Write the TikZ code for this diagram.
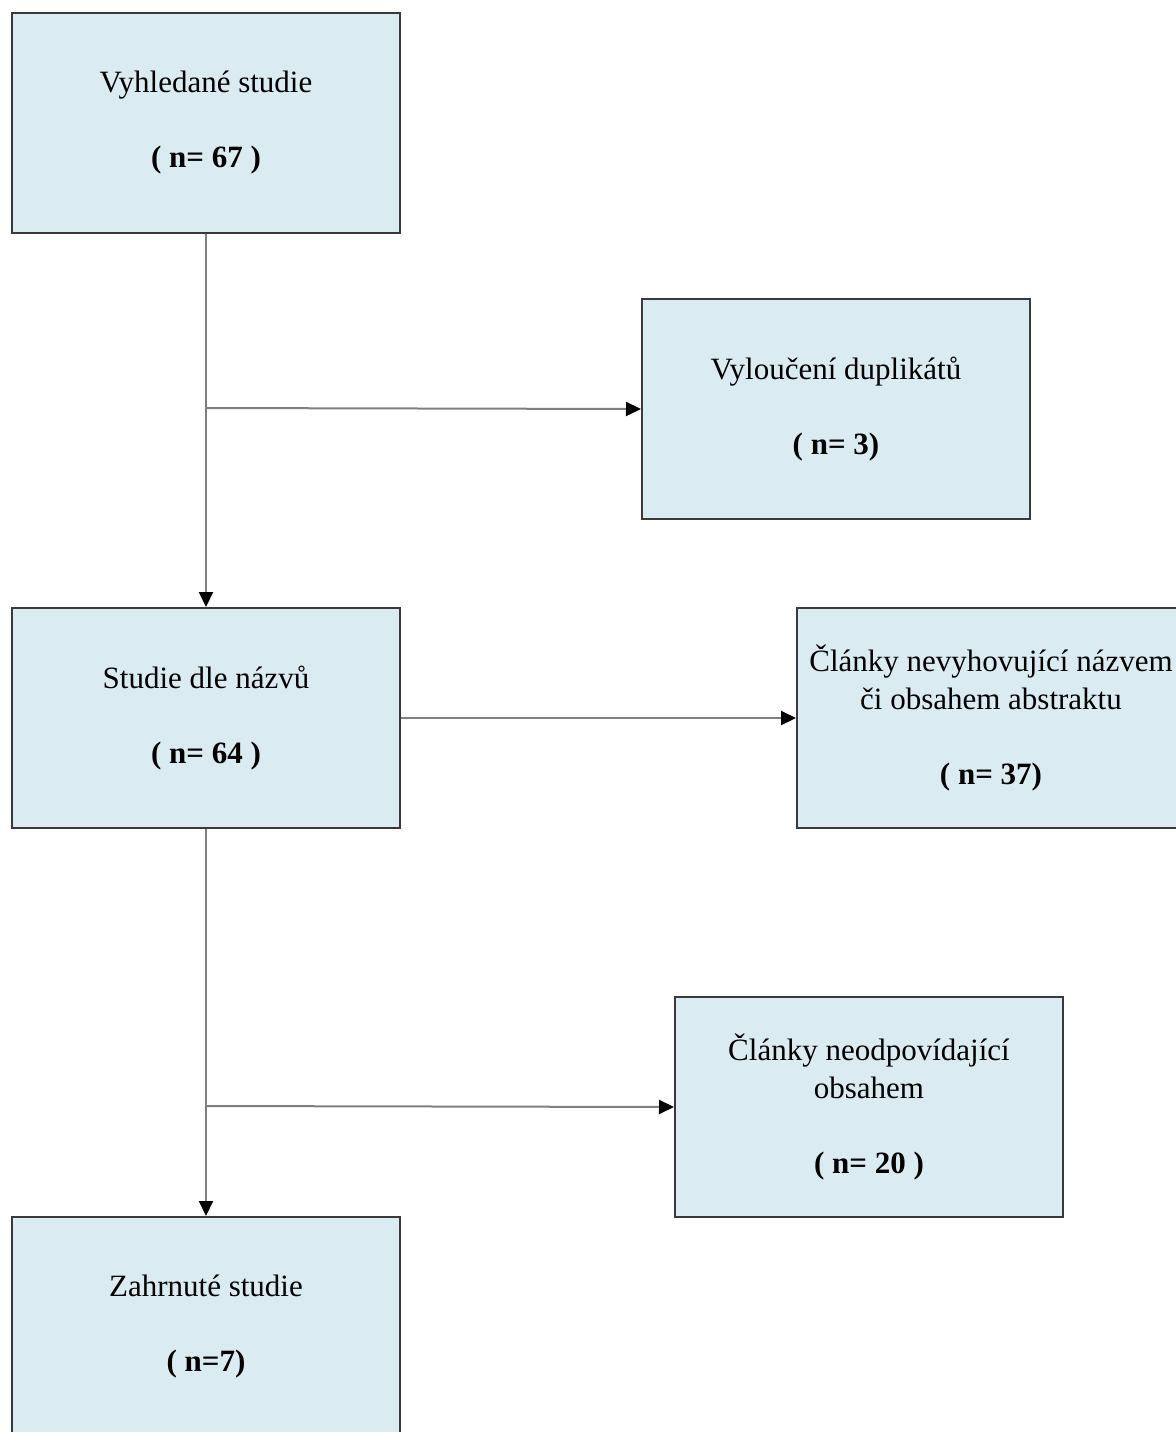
\documentclass[tikz,border=0pt]{standalone}
\usepackage{fontspec}
\setmainfont{Liberation Serif}
\usetikzlibrary{arrows.meta}
\definecolor{boxfill}{HTML}{DAECF2}
\definecolor{boxline}{HTML}{3A3A3A}
\definecolor{conn}{HTML}{7F7F7F}
\begin{document}
\begin{tikzpicture}[x=0.5pt,y=-0.5pt,
  box/.style={draw=boxline,line width=1pt,fill=boxfill,minimum width=194pt,minimum height=110pt,
    inner sep=0pt,align=center,text=black,font=\fontsize{15.5}{19}\selectfont,anchor=north west},
  conn/.style={draw=conn,line width=1pt},
  arr/.style={conn,-{Triangle[length=7.5pt 0 0,width=7pt 0 0,color=black]}}]
\useasboundingbox (0,0) rectangle (1176,1432);
\clip (0,0) rectangle (1176,1432);
\node[box] (b1) at (11,12) {Vyhledané studie\\[18.5pt]\textbf{( n= 67 )}};
\node[box] (b2) at (641,298) {Vyloučení duplikátů\\[18.5pt]\textbf{( n= 3)}};
\node[box] (b3) at (11,607) {Studie dle názvů\\[18.5pt]\textbf{( n= 64 )}};
\node[box] (b4) at (796,607) {Články nevyhovující názvem\\či obsahem abstraktu\\[18.5pt]\textbf{( n= 37)}};
\node[box] (b5) at (674,996) {Články neodpovídající\\obsahem\\[18.5pt]\textbf{( n= 20 )}};
\node[box] (b6) at (11,1216) {Zahrnuté studie\\[18.5pt]\textbf{( n=7)}};
\coordinate (j1) at (205,408);
\coordinate (j2) at (205,1106);
\draw[arr] (b1.south) -- (b3.north);
\draw[arr] (j1) -- (b2.west);
\draw[arr] (b3.east) -- (b4.west);
\draw[arr] (b3.south) -- (b6.north);
\draw[arr] (j2) -- (b5.west);
\end{tikzpicture}
\end{document}
